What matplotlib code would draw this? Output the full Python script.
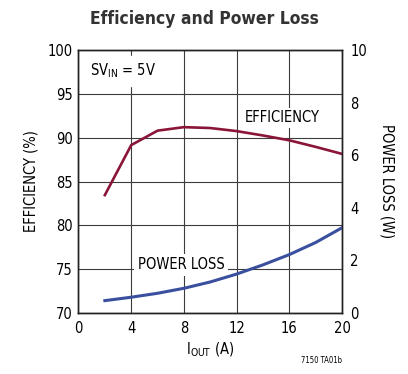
import numpy as np
import matplotlib.pyplot as plt

plt.rcParams['font.family'] = ['DejaVu Sans']
plt.rcParams['font.stretch'] = 'condensed'

# data
i_out = [2, 4, 6, 8, 10, 12, 14, 16, 18, 20]
efficiency = [83.45, 89.15, 90.8, 91.2, 91.1, 90.75, 90.25, 89.7, 88.95, 88.15]
power_loss = [0.47, 0.6, 0.75, 0.94, 1.18, 1.48, 1.83, 2.22, 2.68, 3.24]

eff_color = '#8a1538'
loss_color = '#3a4f9e'
grid_color = '#3c3c3c'

fig = plt.figure(figsize=(4.08, 3.74), dpi=100)
ax = fig.add_axes([0.1924, 0.1631, 0.6458, 0.7032])
ax2 = ax.twinx()

ax.plot(i_out, efficiency, color=eff_color, linewidth=1.9, zorder=3)
ax2.plot(i_out, power_loss, color=loss_color, linewidth=2.2, zorder=3)

ax.set_xlim(0, 20)
ax.set_ylim(70, 100)
ax2.set_ylim(0, 10)
ax.set_xticks(range(0, 21, 4))
ax.set_yticks(range(70, 101, 5))
ax2.set_yticks(range(0, 11, 2))

ax.grid(True, color=grid_color, linewidth=0.8)
ax.tick_params(axis='x', length=0, labelsize=10.5, pad=6)
ax.tick_params(axis='y', length=0, labelsize=10.5, pad=4)
ax2.tick_params(length=0, labelsize=10.5, pad=6)
for sp in list(ax.spines.values()) + list(ax2.spines.values()):
    sp.set_color('#222222')
    sp.set_linewidth(1.0)

ax.set_ylabel('EFFICIENCY (%)', fontsize=10.5, labelpad=7)
ax2.set_ylabel('POWER LOSS (W)', fontsize=10.5, rotation=-90, labelpad=20)
ax.set_xlabel('I$_{\\mathregular{OUT}}$ (A)', fontsize=10.5, labelpad=3)

ax.text(0.9, 97.6, 'SV$_{\\mathregular{IN}}$ = 5V', fontsize=10.5, ha='left', va='center',
        backgroundcolor='white', zorder=4)
ax.text(15.5, 92.25, 'EFFICIENCY', fontsize=10.5, ha='center', va='center',
        bbox=dict(facecolor='white', edgecolor='none', pad=2), zorder=4)
ax.text(7.8, 75.5, 'POWER LOSS', fontsize=10.5, ha='center', va='center',
        bbox=dict(facecolor='white', edgecolor='none', pad=2.5), zorder=4)

fig.text(0.5, 0.948, 'Efficiency and Power Loss', fontsize=12.5, fontweight='bold',
         ha='center', va='center', color='#333333')
fig.text(0.838, 0.037, '7150 TA01b', fontsize=5.5, ha='right', va='center')

fig.savefig('out.png', dpi=100)
